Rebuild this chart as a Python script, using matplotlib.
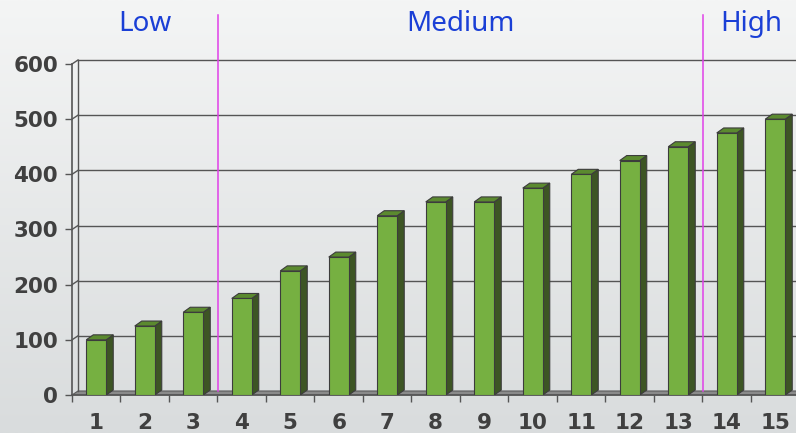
import matplotlib
matplotlib.use("Agg")
import matplotlib.pyplot as plt
from matplotlib.patches import Polygon
import numpy as np

categories = [str(i) for i in range(1, 16)]
values = [100, 125, 150, 175, 225, 250, 325, 350, 350, 375, 400, 425, 450, 475, 500]
region_names = ["Low", "Medium", "High"]
region_edges = [0.5, 3.5, 13.5, 15.5]
yticks = [0, 100, 200, 300, 400, 500, 600]

W, H = 796, 433
fig = plt.figure(figsize=(W / 100, H / 100), dpi=100)

# background gradient
bg = fig.add_axes([0, 0, 1, 1], zorder=-10)
grad = np.linspace(0, 1, 256).reshape(-1, 1)
bg.imshow(grad, aspect="auto", cmap=matplotlib.colors.LinearSegmentedColormap.from_list(
    "g", ["#f4f5f5", "#d9dcdd"]), extent=[0, 1, 0, 1], origin="upper")
bg.axis("off")

# plot area (runs past the right edge like the reference)
px = 48.5
left, bottom, hgt = 72, 38, 331
ax = fig.add_axes([left / W, bottom / H, 15 * px / W, hgt / H])
ax.patch.set_alpha(0)
ax.set_xlim(0.5, 15.5)
ax.set_ylim(0, 600)
for s in ax.spines.values():
    s.set_visible(False)

ux = 1 / px            # data units per pixel, x
uy = 600 / hgt         # data units per pixel, y
wdx, wdy = 6 * ux, 4 * uy   # wall depth
bdx, bdy = 7 * ux, 5 * uy   # bar depth
edge = "#3c3c3c"
grid_c = "#555555"

# floor
ax.add_patch(Polygon([(0.5, 0), (15.5, 0), (15.5 + wdx, wdy), (0.5 + wdx, wdy)],
                     closed=True, fc="#8a8a8a", ec="#5a5a5a", lw=0.8, zorder=1, clip_on=False))
# gridlines on back wall + left wall
for v in yticks[1:]:
    ax.plot([0.5 + wdx, 15.7], [v + wdy, v + wdy], color=grid_c, lw=1, zorder=1, clip_on=False)
    ax.plot([0.5, 0.5 + wdx], [v, v + wdy], color=grid_c, lw=1, zorder=1, clip_on=False)
ax.plot([0.5 + wdx, 0.5 + wdx], [wdy, 600 + wdy], color=grid_c, lw=1, zorder=1, clip_on=False)
ax.plot([0.5, 0.5], [0, 600], color=grid_c, lw=1.2, zorder=2, clip_on=False)
ax.plot([0.5, 15.7], [0, 0], color=grid_c, lw=1.2, zorder=2, clip_on=False)

# region separators and labels
for xe in region_edges[1:-1]:
    ax.plot([xe + 0.02, xe + 0.02], [wdy, (395 - 15) * uy], color="#e040e8", lw=1.1,
            zorder=1.5, clip_on=False)
for name, a, b in zip(region_names, region_edges[:-1], region_edges[1:]):
    ax.text((a + b) / 2, (395 - 24) * uy, name, ha="center", va="center",
            color="#1a3fd6", fontsize=20, family="Noto Sans", clip_on=False)

# 3D bars
bw = 20 * ux
for i, v in enumerate(values):
    xc = i + 1
    x0, x1 = xc - bw / 2, xc + bw / 2
    ax.add_patch(Polygon([(x1, 0), (x1 + bdx, bdy), (x1 + bdx, v + bdy), (x1, v)],
                         closed=True, fc="#3d5524", ec=edge, lw=0.8, zorder=3))
    ax.add_patch(Polygon([(x0, v), (x1, v), (x1 + bdx, v + bdy), (x0 + bdx, v + bdy)],
                         closed=True, fc="#5b8a2f", ec=edge, lw=0.8, zorder=3))
    ax.bar(xc, v, width=bw, color="#76b041", edgecolor=edge, linewidth=0.8, zorder=4)

# ticks
ax.set_yticks(yticks)
ax.set_yticklabels([str(t) for t in yticks])
ax.set_xticks(range(1, 16))
ax.set_xticklabels(categories)
ax.set_xticks(np.arange(0.5, 16, 1), minor=True)
ax.tick_params(axis="x", which="major", length=0, pad=13)
ax.tick_params(axis="x", which="minor", length=5, color=grid_c, width=1)
ax.tick_params(axis="y", length=5, color=grid_c, width=1, pad=5)
for lab in ax.get_xticklabels() + ax.get_yticklabels():
    lab.set_fontweight("bold")
    lab.set_fontsize(15.5)
    lab.set_color("#404040")
    lab.set_family("DejaVu Sans")

fig.savefig("out.png", dpi=100)
